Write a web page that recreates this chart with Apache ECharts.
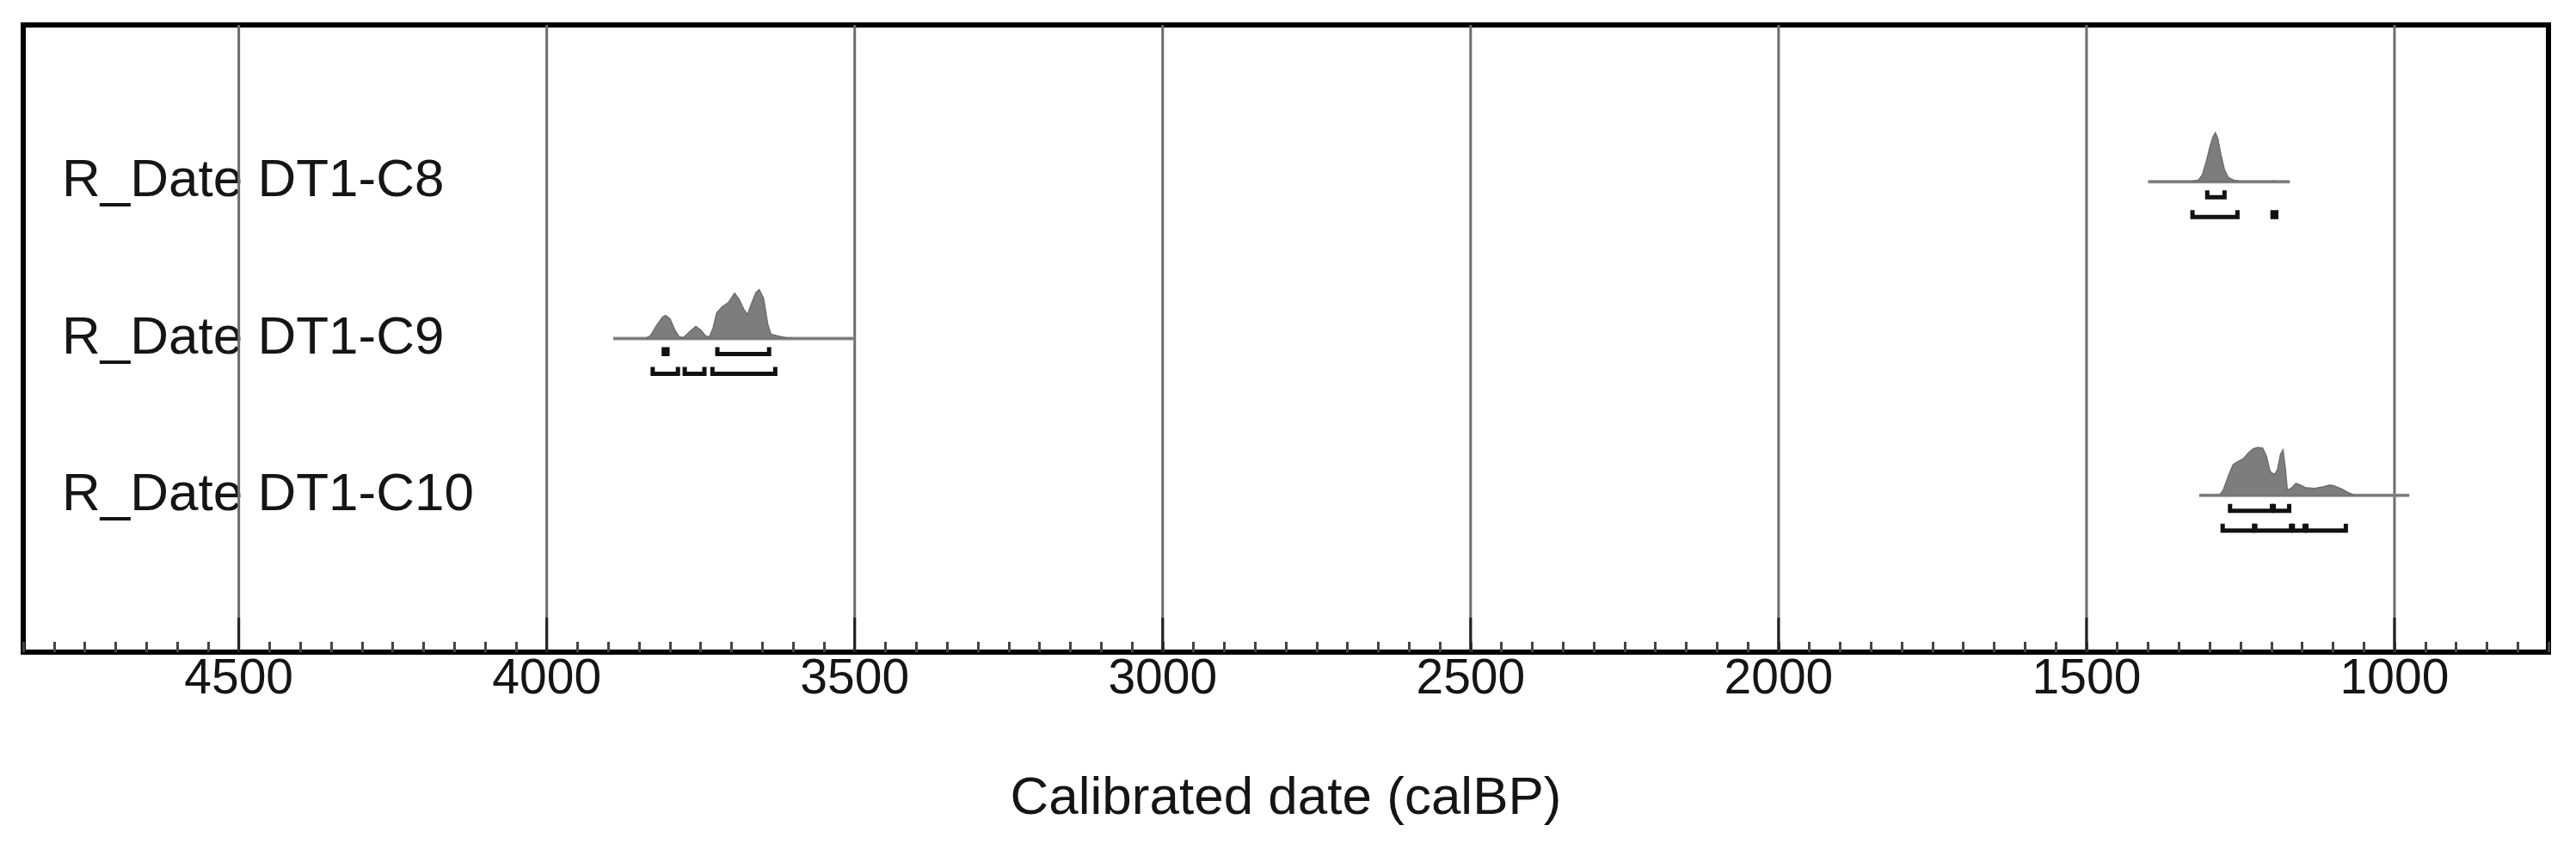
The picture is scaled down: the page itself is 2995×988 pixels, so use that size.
<!DOCTYPE html>
<html>
<head>
<meta charset="utf-8">
<title>Calibrated dates</title>
<script src="https://cdn.jsdelivr.net/npm/echarts@6/dist/echarts.min.js"></script>
<style>
  html, body { margin: 0; padding: 0; background: #fff; }
  #chart { width: 2995px; height: 988px; }
</style>
</head>
<body>
<div id="chart"></div>
<script>
// rows, top to bottom, and the level each one sits on
const rowNames = ['R_Date DT1-C8', 'R_Date DT1-C9', 'R_Date DT1-C10'];
const rowLevels = [3, 2, 1];
const majorTicks = [4500, 4000, 3500, 3000, 2500, 2000, 1500, 1000];

// probability curves: [calBP, relative density]
const c8Prob = [
  [1400, 0], [1330, 0], [1318, 2], [1312, 8], [1305, 25], [1300, 40], [1295, 52],
  [1291, 57], [1287, 51], [1282, 32], [1276, 14], [1270, 5], [1262, 2], [1250, 0],
  [1200, 0], [1196, 1], [1192, 0], [1170, 0]
];
const c9Prob = [
  [3892, 0], [3840, 0], [3832, 3], [3822, 15], [3812, 25], [3807, 27], [3800, 23],
  [3792, 10], [3785, 2], [3778, 1], [3768, 8], [3758, 14], [3750, 10], [3742, 3],
  [3736, 2], [3730, 12], [3724, 30], [3715, 37], [3705, 42], [3695, 53], [3688, 46],
  [3680, 34], [3674, 28], [3667, 42], [3660, 54], [3655, 57], [3648, 47], [3641, 16],
  [3636, 5], [3625, 3], [3612, 1], [3600, 0], [3500, 0]
];
const c10Prob = [
  [1317, 0], [1284, 0], [1278, 6], [1270, 22], [1262, 36], [1255, 39], [1245, 43],
  [1238, 49], [1230, 54], [1222, 56], [1214, 55], [1208, 46], [1202, 28], [1195, 24],
  [1190, 30], [1185, 48], [1181, 53], [1177, 30], [1174, 6], [1168, 8], [1160, 14],
  [1153, 12], [1145, 9], [1130, 8], [1115, 10], [1105, 12], [1098, 11], [1085, 7],
  [1075, 3], [1065, 0], [976, 0]
];

// highest posterior density ranges
const c8Range68 = [[1304, 1276]];
const c8Range95 = [[1328, 1255], [1198, 1192]];
const c9Range68 = [[3810, 3804], [3723, 3639]];
const c9Range95 = [[3828, 3787], [3776, 3744], [3731, 3629]];
const c10Range68 = [[1267, 1199], [1196, 1171]];
const c10Range95 = [[1279, 1228], [1226, 1168], [1165, 1146], [1143, 1079]];

const probs = [c8Prob, c9Prob, c10Prob];
const ranges68 = [c8Range68, c9Range68, c10Range68];
const ranges95 = [c8Range95, c9Range95, c10Range95];

const densScale = 1 / 183;
const font = '"Liberation Sans", Arial, sans-serif';

let chart = echarts.init(document.getElementById('chart'));

function bracket(api, r, level, offset) {
  let a = api.coord([r[0], level]);
  let b = api.coord([r[1], level]);
  let y = a[1] + offset;
  return {
    type: 'polyline',
    shape: { points: [[a[0], y - 8], [a[0], y], [b[0], y], [b[0], y - 8]] },
    style: { fill: null, stroke: '#111', lineWidth: 5 }
  };
}

function renderRow(params, api) {
  let i = params.dataIndex;
  let level = rowLevels[i];
  let p = probs[i];
  let pts = p.map(d => api.coord([d[0], level + d[1] * densScale]));
  let start = api.coord([p[0][0], level]);
  let end = api.coord([p[p.length - 1][0], level]);
  let children = [
    {
      type: 'line',
      shape: { x1: start[0], y1: start[1], x2: end[0], y2: end[1] },
      style: { stroke: '#949494', lineWidth: 4 }
    },
    {
      type: 'polygon',
      shape: { points: pts },
      style: { fill: '#7d7d7d', stroke: '#6e6e6e', lineWidth: 1.5 }
    }
  ];
  ranges68[i].forEach(r => children.push(bracket(api, r, level, 18)));
  ranges95[i].forEach(r => children.push(bracket(api, r, level, 41)));
  return { type: 'group', children: children };
}

function renderGrid(params, api) {
  let v = majorTicks[params.dataIndex];
  let bottom = api.coord([v, 0]);
  let top = api.coord([v, 4]);
  let tick = api.coord([v, 0.22]);
  return {
    type: 'group',
    children: [
      { type: 'line', shape: { x1: top[0], y1: top[1], x2: bottom[0], y2: bottom[1] },
        style: { stroke: '#6c6c6c', lineWidth: 3 } },
      { type: 'line', shape: { x1: tick[0], y1: tick[1], x2: bottom[0], y2: bottom[1] },
        style: { stroke: '#222', lineWidth: 3 } }
    ]
  };
}

chart.setOption({
  backgroundColor: '#fff',
  animation: false,
  grid: {
    left: 27, right: 32, top: 29, bottom: 230,
    show: true, borderColor: '#000', borderWidth: 6, backgroundColor: '#fff'
  },
  xAxis: {
    type: 'value',
    inverse: true,
    min: 750,
    max: 4850,
    interval: 50,
    name: 'Calibrated date (calBP)',
    nameLocation: 'middle',
    nameGap: 140,
    nameTextStyle: { fontSize: 62, color: '#151515', fontFamily: font },
    axisLine: { lineStyle: { color: '#000', width: 6 } },
    axisTick: { inside: true, length: 12, lineStyle: { color: '#444', width: 3 } },
    axisLabel: {
      margin: 4,
      fontSize: 57,
      color: '#151515',
      fontFamily: font,
      formatter: v => (v % 500 === 0 ? String(v) : '')
    },
    splitLine: { show: false }
  },
  yAxis: {
    type: 'value',
    min: 0,
    max: 4,
    interval: 1,
    axisLine: { show: false },
    axisTick: { show: false },
    splitLine: { show: false },
    axisLabel: {
      inside: true,
      margin: 45,
      fontSize: 62,
      color: '#151515',
      fontFamily: font,
      padding: [0, 0, 10, 0],
      formatter: v => {
        let k = rowLevels.indexOf(v);
        return k >= 0 ? rowNames[k] : '';
      }
    }
  },
  series: [
    {
      name: 'grid',
      type: 'custom',
      silent: true,
      renderItem: renderGrid,
      encode: { x: 0, y: 1 },
      data: majorTicks.map(v => [v, 0]),
      z: 1
    },
    {
      name: 'dates',
      type: 'custom',
      silent: true,
      renderItem: renderRow,
      encode: { x: 0, y: 1 },
      data: probs.map((p, i) => [p[0][0], rowLevels[i]]),
      z: 2
    }
  ]
});
</script>
</body>
</html>
